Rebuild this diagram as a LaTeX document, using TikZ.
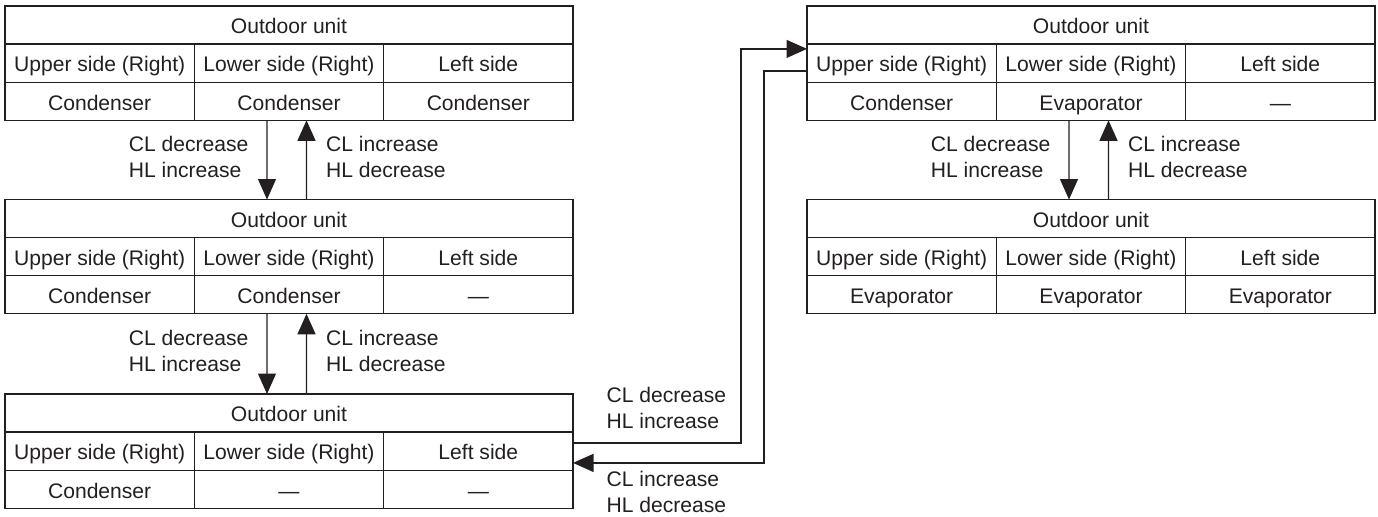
\documentclass[tikz,border=0pt]{standalone}
\usepackage{fontspec}
\setmainfont{Liberation Sans}
\usetikzlibrary{positioning, arrows.meta}
\definecolor{tinta}{HTML}{231F20}
\tikzset{
  cabeza/.style={rectangle, draw=tinta, line width=0.7pt, minimum width=11.36cm, minimum height=0.762cm,
                 inner sep=0pt, outer sep=0pt, text centered, text=tinta, text height=10.5pt, text depth=0.5pt},
  celda/.style={cabeza, minimum width=3.7867cm},
  rotulo/.style={align=left, inner sep=0pt, text=tinta},
  arrow/.style={line width=0.7pt, -{Triangle[length=0.41cm, width=0.36cm]}, color=tinta}
}

\begin{document}
\begin{tikzpicture}[font=\fontsize{12}{14.5}\selectfont]
  \useasboundingbox (0,0) rectangle (27.56,-10.32);
  % left column
  \node (u1) [cabeza, anchor=north west] at (0.1,-0.12) {Outdoor unit};
  \node (u1a) [celda, below right=0pt and 0pt of u1.south west] {Upper side (Right)};
  \node (u1b) [celda, right=0pt of u1a] {Lower side (Right)};
  \node (u1c) [celda, right=0pt of u1b] {Left side};
  \node (u1d) [celda, below=0pt of u1a] {Condenser};
  \node (u1e) [celda, below=0pt of u1b] {Condenser};
  \node (u1f) [celda, below=0pt of u1c] {Condenser};

  \node (u2) [cabeza, anchor=north west] at (0.1,-3.99) {Outdoor unit};
  \node (u2a) [celda, below right=0pt and 0pt of u2.south west] {Upper side (Right)};
  \node (u2b) [celda, right=0pt of u2a] {Lower side (Right)};
  \node (u2c) [celda, right=0pt of u2b] {Left side};
  \node (u2d) [celda, below=0pt of u2a] {Condenser};
  \node (u2e) [celda, below=0pt of u2b] {Condenser};
  \node (u2f) [celda, below=0pt of u2c] {—};

  \node (u3) [cabeza, anchor=north west] at (0.1,-7.88) {Outdoor unit};
  \node (u3a) [celda, below right=0pt and 0pt of u3.south west] {Upper side (Right)};
  \node (u3b) [celda, right=0pt of u3a] {Lower side (Right)};
  \node (u3c) [celda, right=0pt of u3b] {Left side};
  \node (u3d) [celda, below=0pt of u3a] {Condenser};
  \node (u3e) [celda, below=0pt of u3b] {—};
  \node (u3f) [celda, below=0pt of u3c] {—};

  % right column
  \node (u4) [cabeza, anchor=north west] at (16.14,-0.12) {Outdoor unit};
  \node (u4a) [celda, below right=0pt and 0pt of u4.south west] {Upper side (Right)};
  \node (u4b) [celda, right=0pt of u4a] {Lower side (Right)};
  \node (u4c) [celda, right=0pt of u4b] {Left side};
  \node (u4d) [celda, below=0pt of u4a] {Condenser};
  \node (u4e) [celda, below=0pt of u4b] {Evaporator};
  \node (u4f) [celda, below=0pt of u4c] {—};

  \node (u5) [cabeza, anchor=north west] at (16.14,-3.99) {Outdoor unit};
  \node (u5a) [celda, below right=0pt and 0pt of u5.south west] {Upper side (Right)};
  \node (u5b) [celda, right=0pt of u5a] {Lower side (Right)};
  \node (u5c) [celda, right=0pt of u5b] {Left side};
  \node (u5d) [celda, below=0pt of u5a] {Evaporator};
  \node (u5e) [celda, below=0pt of u5b] {Evaporator};
  \node (u5f) [celda, below=0pt of u5c] {Evaporator};

  % transitions
  \draw [arrow] ([xshift=-0.44cm]u1e.south) -- ([xshift=-0.44cm]u2.north)
    node (r1) [rotulo, midway, left=0.36cm, yshift=0.06cm] {CL decrease\\HL increase};
  \draw [arrow] ([xshift=0.35cm]u2.north) -- ([xshift=0.35cm]u1e.south)
    node (r2) [rotulo, midway, right=0.38cm, yshift=0.06cm] {CL increase\\HL decrease};
  \draw [arrow] ([xshift=-0.44cm]u2e.south) -- ([xshift=-0.44cm]u3.north)
    node (r3) [rotulo, midway, left=0.36cm, yshift=0.06cm] {CL decrease\\HL increase};
  \draw [arrow] ([xshift=0.35cm]u3.north) -- ([xshift=0.35cm]u2e.south)
    node (r4) [rotulo, midway, right=0.38cm, yshift=0.06cm] {CL increase\\HL decrease};
  \draw [arrow] ([xshift=-0.44cm]u4e.south) -- ([xshift=-0.44cm]u5.north)
    node (r5) [rotulo, midway, left=0.36cm, yshift=0.06cm] {CL decrease\\HL increase};
  \draw [arrow] ([xshift=0.35cm]u5.north) -- ([xshift=0.35cm]u4e.south)
    node (r6) [rotulo, midway, right=0.38cm, yshift=0.06cm] {CL increase\\HL decrease};

  \coordinate (v1) at (14.82,-5);
  \coordinate (v2) at (15.28,-5);
  \draw [arrow] ([yshift=0.165cm]u3c.east)
    node (r7) [rotulo, anchor=south west, xshift=0.66cm, yshift=0.28cm] {CL decrease\\HL increase}
    -| (v1) |- ([yshift=0.285cm]u4a.west);
  \draw [arrow] ([yshift=-0.155cm]u4a.west) -| (v2) |- ([yshift=-0.235cm]u3c.east)
    node (r8) [rotulo, anchor=north west, xshift=0.66cm, yshift=-0.16cm] {CL increase\\HL decrease};
\end{tikzpicture}
\end{document}
